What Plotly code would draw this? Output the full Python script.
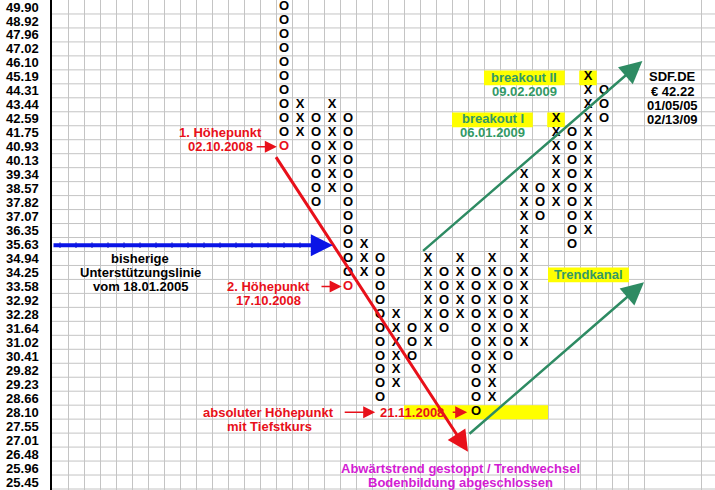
import plotly.graph_objects as go

# ---------------- data ----------------
price_labels = ["49.90", "48.92", "47.96", "47.02", "46.10", "45.19", "44.31", "43.44",
                "42.59", "41.75", "40.93", "40.13", "39.34", "38.57", "37.82", "37.07",
                "36.35", "35.63", "34.94", "34.25", "33.58", "32.92", "32.28", "31.64",
                "31.02", "30.41", "29.82", "29.23", "28.66", "28.10", "27.55", "27.01",
                "26.48", "25.96", "25.45"]

col_index = list(range(14, 35))
col_type = ["O", "X", "O", "X", "O", "X", "O", "X", "O", "X", "O",
            "X", "O", "X", "O", "X", "O", "X", "O", "X", "O"]
col_top = ["49.90", "43.44", "42.59", "43.44", "42.59", "35.63", "34.94", "32.28", "31.64",
           "34.94", "34.25", "34.94", "34.25", "34.94", "34.25", "39.34", "38.57", "42.59",
           "41.75", "45.19", "44.31"]
col_bottom = ["40.93", "41.75", "37.82", "38.57", "33.58", "34.25", "28.66", "29.23", "30.41",
              "31.02", "31.64", "32.28", "28.10", "28.66", "30.41", "31.02", "37.07", "37.82",
              "35.63", "36.35", "42.59"]

red_mark_col = [14, 18]
red_mark_price = ["40.93", "33.58"]
yellow_mark_col = [31, 33]
yellow_mark_price = ["42.59", "45.19"]

support_price = "35.63"
support_cols = list(range(0, 17))

info_lines = ["SDF.DE", "€ 42.22", "01/05/05", "02/13/09"]

# ---------------- styles ----------------
FONT = "Arial, Liberation Sans, sans-serif"
RED = "#e8101a"
GREEN_T = "#339966"
GREEN_L = "#2e8b63"
BLUE = "#0a14e6"
MAGENTA = "#d31cd3"
YELLOW = "#ffff00"
GRID = "#c4c4c4"

def row(p):
    return price_labels.index(p)

xs, ys, txt, cols = [], [], [], []
for c, t, top, bot in zip(col_index, col_type, col_top, col_bottom):
    for r in range(row(top), row(bot) + 1):
        xs.append(c)
        ys.append(r)
        txt.append(t)
        red = any(c == rc and r == row(rp) for rc, rp in zip(red_mark_col, red_mark_price))
        cols.append(RED if red else "black")

fig = go.Figure()
fig.add_trace(go.Scatter(x=xs, y=ys, mode="text", text=txt,
                         textfont=dict(family=FONT, size=13, color=cols, weight="bold"),
                         hoverinfo="skip", showlegend=False, cliponaxis=False))

n_rows = len(price_labels)
shapes = []
# horizontal grid lines at row boundaries
for k in range(n_rows):
    shapes.append(dict(type="line", xref="paper", x0=0, x1=1, yref="y", y0=k + 0.5, y1=k + 0.5,
                       line=dict(color=GRID, width=1), layer="below"))

# yellow fills
def yrect(x0, x1, y0, y1):
    shapes.append(dict(type="rect", xref="x", yref="y", x0=x0, x1=x1, y0=y0, y1=y1,
                       fillcolor=YELLOW, line=dict(width=0), layer="between"))

r28 = row("28.10")
yrect(21.5, 30.5, r28 - 0.5, r28 + 0.5)
for c, p in zip(yellow_mark_col, yellow_mark_price):
    yrect(c - 0.55, c + 0.55, row(p) - 0.45, row(p) + 0.6)
yrect(26.5, 31.55, row("45.19") - 0.45, row("45.19") + 0.6)   # breakout II
yrect(24.5, 29.55, row("42.59") - 0.45, row("42.59") + 0.6)   # breakout I
yrect(30.5, 35.56, row("34.25") - 0.35, row("34.25") + 0.7)   # Trendkanal

ann = []

def label(x, y, text, color, size=13):
    ann.append(dict(x=x, y=y, xref="x", yref="y", text=text, showarrow=False,
                    font=dict(family=FONT, size=size, color=color, weight="bold"),
                    xanchor="center", yanchor="middle"))

def arrow(x0, y0, x1, y1, color, width, size, head=2):
    ann.append(dict(x=x1, y=y1, ax=x0, ay=y0, xref="x", yref="y", axref="x", ayref="y",
                    text="", showarrow=True, arrowhead=head, arrowsize=size,
                    arrowwidth=width, arrowcolor=color))

# red annotations
label(10.05, 9, "1. Höhepunkt", RED)
label(10.0, 10, "02.10.2008", RED)
arrow(12.2, 10, 13.55, 10, RED, 1.5, 1.6)
label(13.05, 20, "2. Höhepunkt", RED)
label(13.05, 21, "17.10.2008", RED)
arrow(16.25, 20, 17.6, 20, RED, 1.5, 1.6)
label(13.05, 29, "absoluter Höhepunkt", RED)
label(13.1, 30, "mit Tiefstkurs", RED)
arrow(17.7, 29, 19.7, 29, RED, 1.5, 1.6)
label(21.98, 29, "21.11.2008", RED)
arrow(24.45, 29, 25.45, 29, RED, 1.5, 1.6)
arrow(13.44, 10.64, 25.5, 31.84, RED, 3, 1.4)

# blue support line
sr = row(support_price) + 0.05
arrow(-0.5, sr, 17.05, sr, BLUE, 4, 1.1)
fig.add_trace(go.Scatter(x=support_cols, y=[sr] * len(support_cols), mode="markers",
                         marker=dict(symbol="line-ns", size=4,
                                     line=dict(color="#10109a", width=1)),
                         hoverinfo="skip", showlegend=False))
label(5.0, 18, "bisherige", "black")
label(5.0, 19, "Unterstützungslinie", "black")
label(5.0, 20, "vom 18.01.2005", "black")

# magenta
label(25.06, 33.05, "Abwärtstrend gestoppt / Trendwechsel", MAGENTA)
label(25.06, 34.05, "Bodenbildung abgeschlossen", MAGENTA)

# green trend channel
arrow(22.6, 17.55, 36.4, 3.86, GREEN_L, 2.5, 1.8)
arrow(25.5, 30.64, 36.5, 19.71, GREEN_L, 2.5, 1.8)
label(33.06, 19.15, "Trendkanal", GREEN_T)
label(29.0, 5.07, "breakout II", GREEN_T)
label(29.0, 6.07, "09.02.2009", GREEN_T)
label(27.05, 8.0, "breakout I", GREEN_T)
label(27.0, 9.0, "06.01.2009", GREEN_T)

# info
for k, t in enumerate(info_lines):
    label(38.25, 5 + k + (0.07 if k else 0), t, "black")

x_grid = [-0.5 + k for k in range(38)] + [40.0625]

fig.update_layout(
    width=715, height=490,
    margin=dict(l=52, r=0, t=0, b=0),
    paper_bgcolor="white", plot_bgcolor="white",
    shapes=shapes, annotations=ann, showlegend=False,
    xaxis=dict(range=[-0.5, 40.9375], tickmode="array", tickvals=x_grid,
               showticklabels=False, showgrid=True, gridcolor=GRID, gridwidth=1,
               zeroline=False, showline=False, ticks="", fixedrange=True),
    yaxis=dict(range=[34.5714, -0.5], tickmode="array",
               tickvals=list(range(n_rows)), ticktext=price_labels,
               tickfont=dict(family=FONT, size=13, color="black", weight="bold"),
               showgrid=False, zeroline=False, showline=True, linecolor="black",
               linewidth=1.5, ticks="", ticklabelstandoff=9, ticklabeloverflow="allow",
               fixedrange=True),
)

fig.write_html("out.html", config={"displayModeBar": False},
               post_script="document.body.style.margin='0';document.body.style.padding='0';"
                           "document.body.style.overflow='hidden';")
